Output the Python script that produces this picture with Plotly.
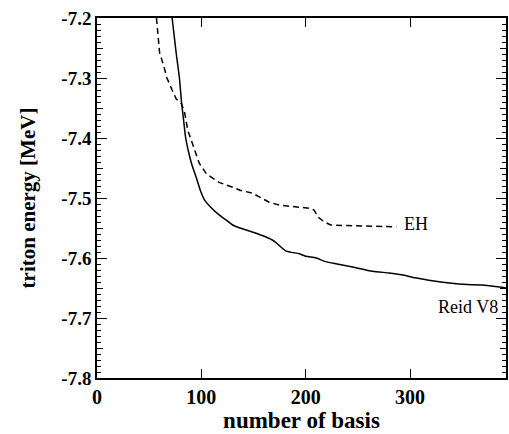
import plotly.graph_objects as go

# Reid V8 (solid)
reid_x = [72, 74, 76, 79, 81, 83, 85, 88, 91, 95, 99, 103, 110, 117, 124, 130, 137, 146, 159, 168, 172, 181, 194, 200, 210, 219, 230, 245, 264, 280, 292, 305, 318, 340, 355, 369, 380, 392]
reid_y = [-7.2, -7.23, -7.26, -7.3, -7.34, -7.37, -7.4, -7.425, -7.445, -7.465, -7.487, -7.503, -7.517, -7.528, -7.537, -7.545, -7.55, -7.555, -7.563, -7.57, -7.575, -7.588, -7.593, -7.597, -7.600, -7.606, -7.61, -7.615, -7.622, -7.625, -7.628, -7.633, -7.637, -7.642, -7.644, -7.645, -7.647, -7.65]

# EH (dashed)
eh_x = [57, 58, 60, 64, 67, 72, 76, 81, 84, 87, 91, 95, 98, 105, 111, 117, 130, 137, 149, 156, 165, 175, 190, 203, 208, 212, 218, 224, 240, 260, 287]
eh_y = [-7.2, -7.225, -7.258, -7.28, -7.3, -7.32, -7.335, -7.343, -7.358, -7.387, -7.408, -7.43, -7.442, -7.46, -7.467, -7.474, -7.482, -7.487, -7.492, -7.498, -7.507, -7.512, -7.515, -7.517, -7.52, -7.532, -7.54, -7.545, -7.546, -7.547, -7.548]

x_ticks = [0, 100, 200, 300]
y_ticks = [-7.8, -7.7, -7.6, -7.5, -7.4, -7.3, -7.2]
y_ticktext = ["-7.8", "-7.7", "-7.6", "-7.5", "-7.4", "-7.3", "-7.2"]

serif = "Times New Roman, Liberation Serif, DejaVu Serif, serif"

fig = go.Figure()
fig.add_trace(go.Scatter(x=reid_x, y=reid_y, mode="lines", line_shape="spline",
                         line=dict(color="black", width=1.5, smoothing=0.6), showlegend=False))
fig.add_trace(go.Scatter(x=eh_x, y=eh_y, mode="lines",
                         line=dict(color="black", width=1.5, dash="6px,4px"), showlegend=False))
# helper trace for medium ticks axis
fig.add_trace(go.Scatter(x=[None], y=[None], yaxis="y2", showlegend=False))

fig.add_annotation(x=287, y=-7.544, text="EH", showarrow=False, xanchor="left",
                   yanchor="middle", xshift=6, font=dict(family=serif, size=18, color="black"))
fig.add_annotation(x=392, y=-7.682, text="Reid V8", showarrow=False, xanchor="right",
                   yanchor="middle", xshift=-6, font=dict(family=serif, size=18, color="black"))

fig.update_layout(
    width=509, height=434,
    margin=dict(l=97, r=1, t=18, b=56),
    paper_bgcolor="white", plot_bgcolor="white",
    font=dict(family=serif, color="black"),
    xaxis=dict(range=[0, 392], tickvals=x_ticks, ticktext=["<b>%d</b>" % v for v in x_ticks],
               ticks="inside", ticklen=9, tickwidth=1,
               tickcolor="black", showline=True, linecolor="black", linewidth=1.5,
               mirror="ticks", showgrid=False, zeroline=False,
               tickfont=dict(family=serif, size=20, color="black"),
               title=dict(text="<b>number of basis</b>", font=dict(family=serif, size=23), standoff=3)),
    yaxis=dict(range=[-7.8, -7.2], tickvals=y_ticks, ticktext=["<b>%s</b>" % t for t in y_ticktext],
               ticks="inside", ticklen=10, tickwidth=1, tickcolor="black",
               minor=dict(dtick=0.01, ticks="inside", ticklen=4, tickcolor="black", tickwidth=1),
               showline=True, linecolor="black", linewidth=1.5, mirror="ticks",
               showgrid=False, zeroline=False,
               tickfont=dict(family=serif, size=19, color="black"),
               title=dict(text="<b>triton energy [MeV]</b>", font=dict(family=serif, size=21), standoff=20)),
    yaxis2=dict(overlaying="y", range=[-7.8, -7.2], dtick=0.05, tick0=-7.8, ticks="inside",
                ticklen=6, tickcolor="black", showticklabels=False, showgrid=False,
                zeroline=False, showline=False, mirror="ticks", side="left"),
)

fig.write_html("out.html")
